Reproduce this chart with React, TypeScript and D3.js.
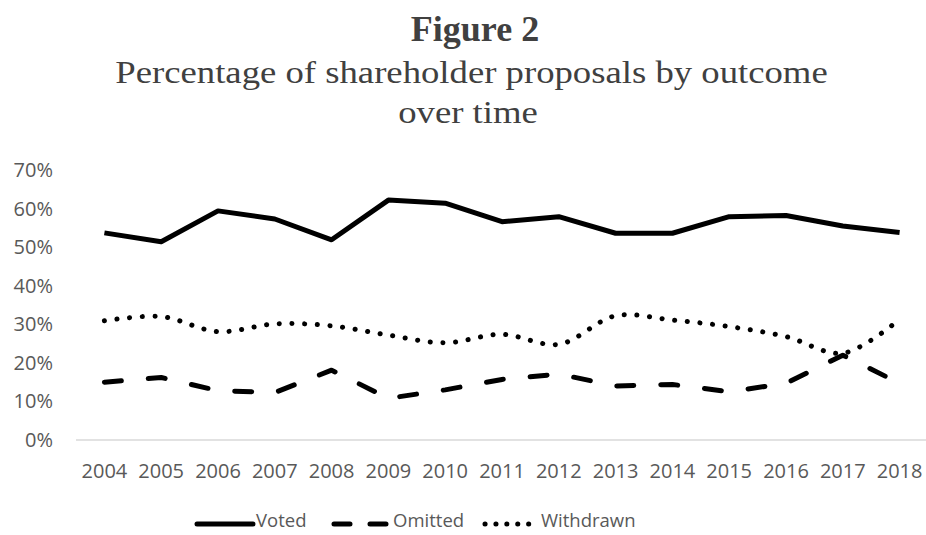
import React from "react";
import * as d3 from "d3";

const years = ["2004", "2005", "2006", "2007", "2008", "2009", "2010", "2011", "2012", "2013", "2014", "2015", "2016", "2017", "2018"];
const voted = [53.7, 51.4, 59.4, 57.3, 51.9, 62.2, 61.4, 56.6, 57.9, 53.6, 53.6, 57.9, 58.2, 55.5, 53.8];
const omitted = [15.0, 16.2, 12.8, 12.3, 18.1, 10.8, 13.0, 15.7, 17.1, 14.0, 14.4, 12.5, 14.7, 22.0, 14.7];
const withdrawn = [30.9, 32.0, 28.1, 30.1, 29.6, 27.2, 25.2, 27.4, 24.8, 32.2, 31.1, 29.4, 26.8, 22.5, 31.3];
const yTicks = [0, 10, 20, 30, 40, 50, 60, 70];
const seriesNames = ["Voted", "Omitted", "Withdrawn"];

const W = 926;
const H = 535;
const axisFont = "'Open Sans', 'Noto Sans', sans-serif";
const axisColor = "#595959";
const serif = "'Liberation Serif', 'Times New Roman', serif";

export default function App() {
  const x = d3.scalePoint<string>().domain(years).range([76, 928]).padding(0.5);
  const y = d3.scaleLinear().domain([0, 70]).range([440, 170]);

  const lineLinear = d3
    .line<number>()
    .x((_, i) => x(years[i]) as number)
    .y((d) => y(d));
  const lineSmooth = d3
    .line<number>()
    .x((_, i) => x(years[i]) as number)
    .y((d) => y(d))
    .curve(d3.curveCatmullRom.alpha(0.5));

  const styles = [
    { dash: undefined as string | undefined, cap: "butt", path: lineLinear(voted) },
    { dash: "17 27", cap: "round", path: lineLinear(omitted) },
    { dash: "0.1 12.6", cap: "round", path: lineSmooth(withdrawn) },
  ];

  const legendItems = [
    { name: seriesNames[0], x0: 197, x1: 253, dash: undefined as string | undefined, cap: "round", tx: 256 },
    { name: seriesNames[1], x0: 334, x1: 389, dash: "16 20", cap: "round", tx: 393 },
    { name: seriesNames[2], x0: 485, x1: 538, dash: "0.1 10.8", cap: "round", tx: 541 },
  ];
  const legendY = 523;

  return (
    <svg
      width={W}
      height={H}
      style={{ position: "absolute", left: 0, top: 0, background: "#fff" }}
    >
      <rect width={W} height={H} fill="#ffffff" />
      <text
        x={475}
        y={41}
        textAnchor="middle"
        fontFamily={serif}
        fontWeight="bold"
        fontSize={36}
        fill="#404040"
      >
        Figure 2
      </text>
      <g transform="translate(471.5,83) scale(1.13,1)">
        <text x={0} y={0} textAnchor="middle" fontFamily={serif} fontSize={32.5} fill="#404040">
          Percentage of shareholder proposals by outcome
        </text>
      </g>
      <g transform="translate(468,123) scale(1.13,1)">
        <text x={0} y={0} textAnchor="middle" fontFamily={serif} fontSize={32.5} fill="#404040">
          over time
        </text>
      </g>

      {/* y axis labels */}
      {yTicks.map((t) => (
        <text
          key={t}
          x={53}
          y={y(t)}
          dy="0.35em"
          textAnchor="end"
          fontFamily={axisFont}
          fontSize={20}
          fill={axisColor}
        >
          {t + "%"}
        </text>
      ))}

      {/* x axis line */}
      <line x1={76} x2={926} y1={y(0)} y2={y(0)} stroke="#d9d9d9" strokeWidth={1.5} />

      {/* x labels */}
      {years.map((yr) => (
        <text
          key={yr}
          x={x(yr) as number}
          y={478}
          textAnchor="middle"
          fontFamily={axisFont}
          fontSize={20}
          fill={axisColor}
        >
          {yr}
        </text>
      ))}

      {/* series */}
      {styles.map((s, i) => (
        <path
          key={i}
          d={s.path || ""}
          fill="none"
          stroke="#000"
          strokeWidth={5}
          strokeDasharray={s.dash}
          strokeLinecap={s.cap as any}
          strokeLinejoin="round"
        />
      ))}

      {/* legend */}
      {legendItems.map((l) => (
        <g key={l.name}>
          <line
            x1={l.x0}
            x2={l.x1}
            y1={legendY + 1}
            y2={legendY + 1}
            stroke="#000"
            strokeWidth={5}
            strokeDasharray={l.dash}
            strokeLinecap={l.cap as any}
          />
          <text
            x={l.tx}
            y={legendY - 2}
            dy="0.35em"
            fontFamily={axisFont}
            fontSize={18.5}
            fill={axisColor}
          >
            {l.name}
          </text>
        </g>
      ))}
    </svg>
  );
}
